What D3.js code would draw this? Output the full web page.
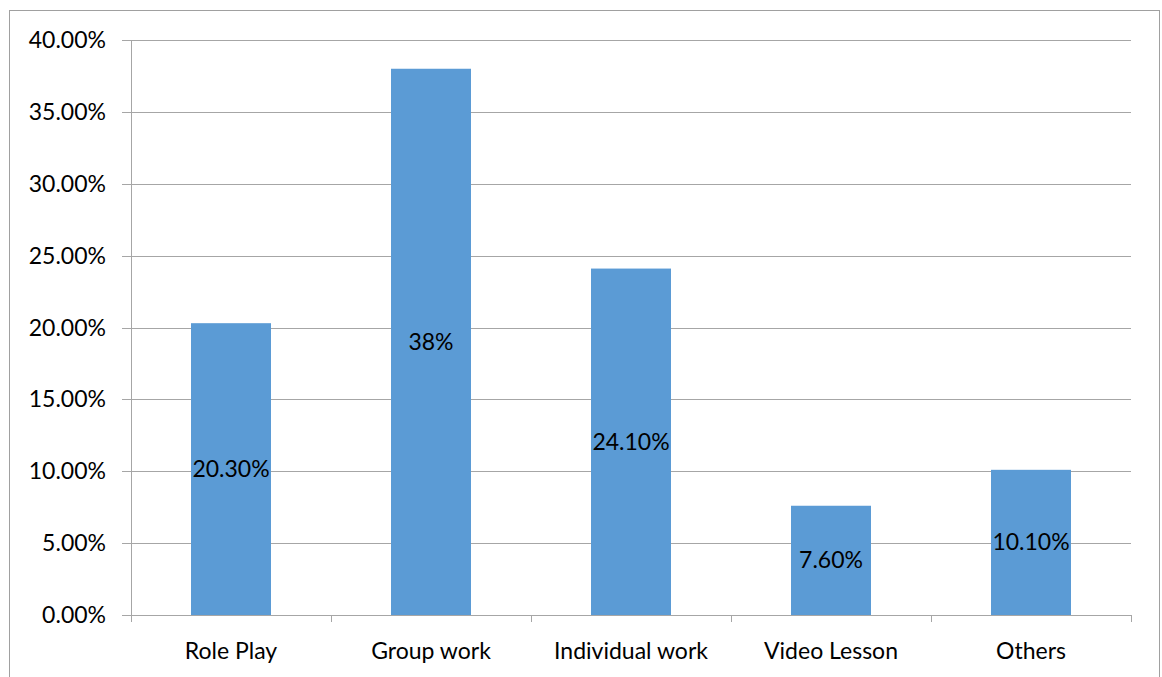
<!DOCTYPE html>
<html><head><meta charset="utf-8">
<script src="https://cdn.jsdelivr.net/npm/d3@7"></script>
<style>body{margin:0;background:#fff}svg{display:block}</style>
</head><body>
<script>
const categories = ["Role Play","Group work","Individual work","Video Lesson","Others"];
const values = [0.203, 0.38, 0.241, 0.076, 0.101];
const valueLabels = ["20.30%","38%","24.10%","7.60%","10.10%"];
const yTicks = [0,0.05,0.10,0.15,0.20,0.25,0.30,0.35,0.40];

const W=1162,H=677;
const m={left:131,right:31,top:40,bottom:62};
const font="Lato, 'Open Sans', sans-serif";
const fs=23;
const svg=d3.select("body").append("svg").attr("width",W).attr("height",H);
svg.append("rect").attr("x",9.5).attr("y",10.5).attr("width",1150).attr("height",700)
  .attr("fill","#fff").attr("stroke","#a0a0a0").attr("stroke-width",1);
const x=d3.scaleBand().domain(categories).range([m.left,W-m.right]).paddingInner(0.6).paddingOuter(0.3);
const xb=d3.scaleBand().domain(categories).range([m.left,W-m.right]);
const y=d3.scaleLinear().domain([0,0.4]).range([H-m.bottom,m.top]);

const g=svg.append("g");
g.selectAll("line.grid").data(yTicks).join("line")
  .attr("x1",m.left-9).attr("x2",W-m.right)
  .attr("y1",d=>Math.round(y(d))+0.5).attr("y2",d=>Math.round(y(d))+0.5)
  .attr("stroke","#a6a6a6").attr("stroke-width",1);
g.selectAll("text.yt").data(yTicks).join("text")
  .attr("x",m.left-25).attr("y",d=>y(d)).attr("dy","0.35em")
  .attr("text-anchor","end").attr("font-family",font).attr("font-size",fs).attr("fill","#000")
  .text(d=>d3.format(".2%")(d));
g.append("line").attr("x1",m.left+0.5).attr("x2",m.left+0.5).attr("y1",m.top).attr("y2",H-m.bottom+7)
  .attr("stroke","#a6a6a6");
const bounds=categories.map(c=>xb(c)).concat([W-m.right]);
g.selectAll("line.xt").data(bounds).join("line")
  .attr("x1",d=>Math.round(d)+0.5).attr("x2",d=>Math.round(d)+0.5)
  .attr("y1",H-m.bottom).attr("y2",H-m.bottom+7).attr("stroke","#a6a6a6");

g.selectAll("rect.bar").data(values).join("rect")
  .attr("x",(d,i)=>x(categories[i])).attr("width",x.bandwidth())
  .attr("y",d=>y(d)).attr("height",d=>y(0)-y(d)).attr("fill","#5b9bd5");
g.selectAll("text.vl").data(values).join("text")
  .attr("x",(d,i)=>x(categories[i])+x.bandwidth()/2).attr("y",d=>(y(d)+y(0))/2).attr("dy","0.35em")
  .attr("text-anchor","middle").attr("font-family",font).attr("font-size",fs).attr("fill","#000")
  .text((d,i)=>valueLabels[i]);
g.selectAll("text.xl").data(categories).join("text")
  .attr("x",d=>xb(d)+xb.bandwidth()/2).attr("y",651).attr("dy","0.35em")
  .attr("text-anchor","middle").attr("font-family",font).attr("font-size",fs).attr("fill","#000")
  .text(d=>d);
</script>
</body></html>
